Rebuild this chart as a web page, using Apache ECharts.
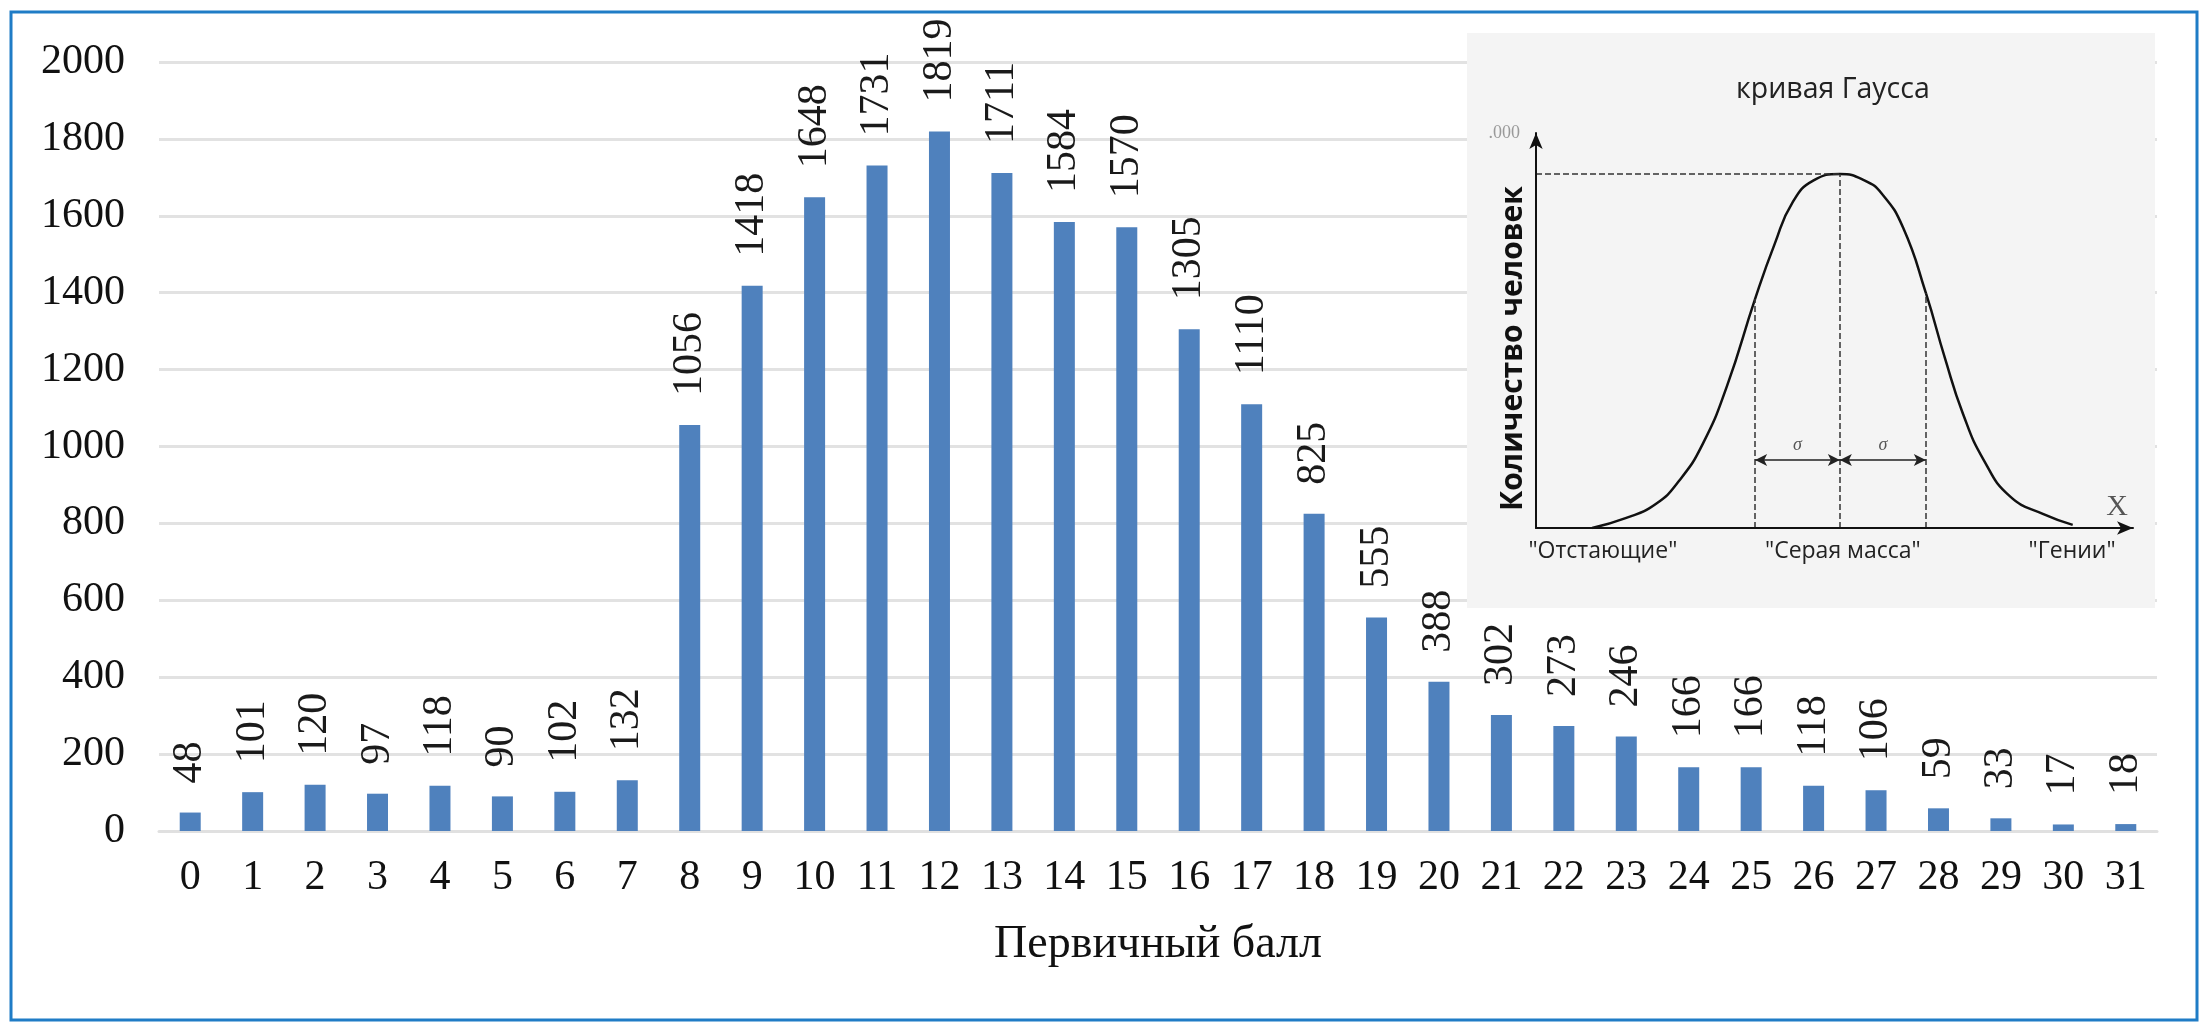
<!DOCTYPE html>
<html>
<head>
<meta charset="utf-8">
<script src="https://cdn.jsdelivr.net/npm/echarts@6/dist/echarts.min.js"></script>
<style>
html,body{margin:0;padding:0;background:#fff;}
#chart{width:2200px;height:1022px;}
</style>
</head>
<body>
<div id="chart"></div>
<script>
// ---- main chart data ----
var categories = ['0','1','2','3','4','5','6','7','8','9','10','11','12','13','14','15','16','17','18','19','20','21','22','23','24','25','26','27','28','29','30','31'];
var counts = [48,101,120,97,118,90,102,132,1056,1418,1648,1731,1819,1711,1584,1570,1305,1110,825,555,388,302,273,246,166,166,118,106,59,33,17,18];
var xTitle = 'Первичный балл';

// ---- inset (Gauss curve picture) data ----
var insetTitle = 'кривая Гаусса';
var insetYName = 'Количество человек';
var insetXName = 'X';
var insetTopLabel = '.000';
var curveX = [9.4,15,20,24,28,32,36.7,40,43,46.5,50.9,55,58,61.5,65.3,68.5,71.5,75,79.4,85,89.9];
var curveY = [0,2.5,6,12,21.5,36,58,72,82.5,88,89.6,88,84.5,76,59.5,43,29,17.2,8,3.5,0.8];
var peakX = 50.9, peakY = 89.6;
var sigmaLeftX = 36.7, sigmaRightX = 65.3;
var sigmaLeftY = 58, sigmaRightY = 59.5;
var arrowY = 17.2;
var groupLabels = ['"Отстающие"','"Серая масса"','"Гении"'];
var groupLabelX = [11.2, 51.4, 89.8];

var chart = echarts.init(document.getElementById('chart'), null, {renderer:'canvas'});

var curveData = curveX.map(function(x,i){return [x, curveY[i]];});

var option = {
  backgroundColor: '#ffffff',
  animation: false,
  textStyle: {fontFamily: 'Liberation Serif'},
  title: {
    text: insetTitle,
    left: 1736, top: 75, padding: 0,
    textStyle: {fontFamily: 'Open Sans', fontSize: 28.5, fontWeight: 'normal', color: '#222'}
  },
  graphic: {elements: [
    {type:'rect', z: 1, shape:{x:1467, y:33, width:688, height:575}, style:{fill:'#f4f4f4'}},
    {type:'rect', z: 10, shape:{x:11, y:12, width:2186, height:1008}, style:{fill:'none', stroke:'#1f7cc6', lineWidth:3}}
  ]},
  grid: [
    {left: 159, right: 43, top: 62, bottom: 191},
    {left: 1536, top: 133, width: 597, height: 395}
  ],
  xAxis: [
    {
      type: 'category', gridIndex: 0, data: categories,
      axisTick: {show: false},
      axisLine: {lineStyle: {color: '#e0e0e0', width: 3}},
      axisLabel: {fontFamily: 'Liberation Serif', fontSize: 42, color: '#111', margin: 26, interval: 0},
      name: xTitle, nameLocation: 'middle', nameGap: 91, nameMoveOverlap: false,
      nameTextStyle: {fontFamily: 'Liberation Serif', fontSize: 46, color: '#111'}
    },
    {
      type: 'value', gridIndex: 1, min: 0, max: 100, z: 5,
      axisLine: {show: true, symbol: ['none','arrow'], symbolSize: [10,16], lineStyle: {color: '#111', width: 2}},
      axisTick: {show: false},
      splitLine: {show: false},
      axisLabel: {
        customValues: groupLabelX, margin: 12,
        fontFamily: 'Open Sans', fontSize: 23, color: '#222',
        formatter: function(v){ var i = groupLabelX.indexOf(v); return i >= 0 ? groupLabels[i] : ''; }
      },
      name: insetXName, nameLocation: 'end', nameGap: -16, nameMoveOverlap: false,
      nameTextStyle: {fontFamily: 'Liberation Serif', fontSize: 30, color: '#555', align: 'center', verticalAlign: 'bottom', padding: [0,0,6,0]}
    }
  ],
  yAxis: [
    {
      type: 'value', gridIndex: 0, min: 0, max: 2000, interval: 200,
      axisLine: {show: false}, axisTick: {show: false},
      splitLine: {lineStyle: {color: '#e2e2e2', width: 3}},
      axisLabel: {fontFamily: 'Liberation Serif', fontSize: 42, color: '#111', margin: 34,
                  formatter: function(v){ return String(v); }}
    },
    {
      type: 'value', gridIndex: 1, min: 0, max: 100, z: 5,
      axisLine: {show: true, symbol: ['none','arrow'], symbolSize: [10,16], lineStyle: {color: '#111', width: 2}},
      axisTick: {show: false},
      splitLine: {show: false},
      axisLabel: {
        customValues: [100], margin: 16,
        fontFamily: 'Liberation Serif', fontSize: 18, color: '#999',
        formatter: function(){ return insetTopLabel; }
      },
      name: insetYName, nameLocation: 'middle', nameGap: 8, nameMoveOverlap: false,
      nameTextStyle: {fontFamily: 'Open Sans', fontSize: 30, fontWeight: 'bold', color: '#111', padding: [0,36,0,0]}
    }
  ],
  series: [
    {
      type: 'bar', xAxisIndex: 0, yAxisIndex: 0, data: counts,
      barWidth: 21,
      itemStyle: {color: '#4f81bd'},
      label: {
        show: true, position: 'top', rotate: 90, align: 'left', verticalAlign: 'middle', distance: 29,
        fontFamily: 'Liberation Serif', fontSize: 42, color: '#1a1a1a',
        formatter: '{v|{c}}',
        rich: {v: {fontFamily: 'Liberation Serif', fontSize: 42, color: '#1a1a1a'}}
      }
    },
    {
      type: 'line', xAxisIndex: 1, yAxisIndex: 1, data: curveData, z: 4,
      smooth: 0.5, showSymbol: false, silent: true,
      lineStyle: {color: '#111', width: 2.5},
      markLine: {
        silent: true, symbol: ['none','none'],
        lineStyle: {type: 'dashed', color: '#333', width: 1.5},
        label: {show: false},
        data: [
          [{coord: [0, peakY]}, {coord: [peakX, peakY]}],
          [{coord: [peakX, 0]}, {coord: [peakX, peakY]}],
          [{coord: [sigmaLeftX, 0]}, {coord: [sigmaLeftX, sigmaLeftY]}],
          [{coord: [sigmaRightX, 0]}, {coord: [sigmaRightX, sigmaRightY]}]
        ]
      }
    },
    {
      type: 'line', xAxisIndex: 1, yAxisIndex: 1, data: [], z: 4,
      markLine: {
        silent: true, symbol: ['arrow','arrow'], symbolSize: [9,12],
        lineStyle: {type: 'solid', color: '#222', width: 1.5},
        label: {show: true, position: 'middle', formatter: 'σ', distance: 6,
                fontFamily: 'Liberation Serif', fontStyle: 'italic', fontSize: 18, color: '#555'},
        data: [
          [{coord: [sigmaLeftX, arrowY]}, {coord: [peakX, arrowY]}],
          [{coord: [peakX, arrowY]}, {coord: [sigmaRightX, arrowY]}]
        ]
      }
    }
  ]
};
chart.setOption(option);
</script>
</body>
</html>
